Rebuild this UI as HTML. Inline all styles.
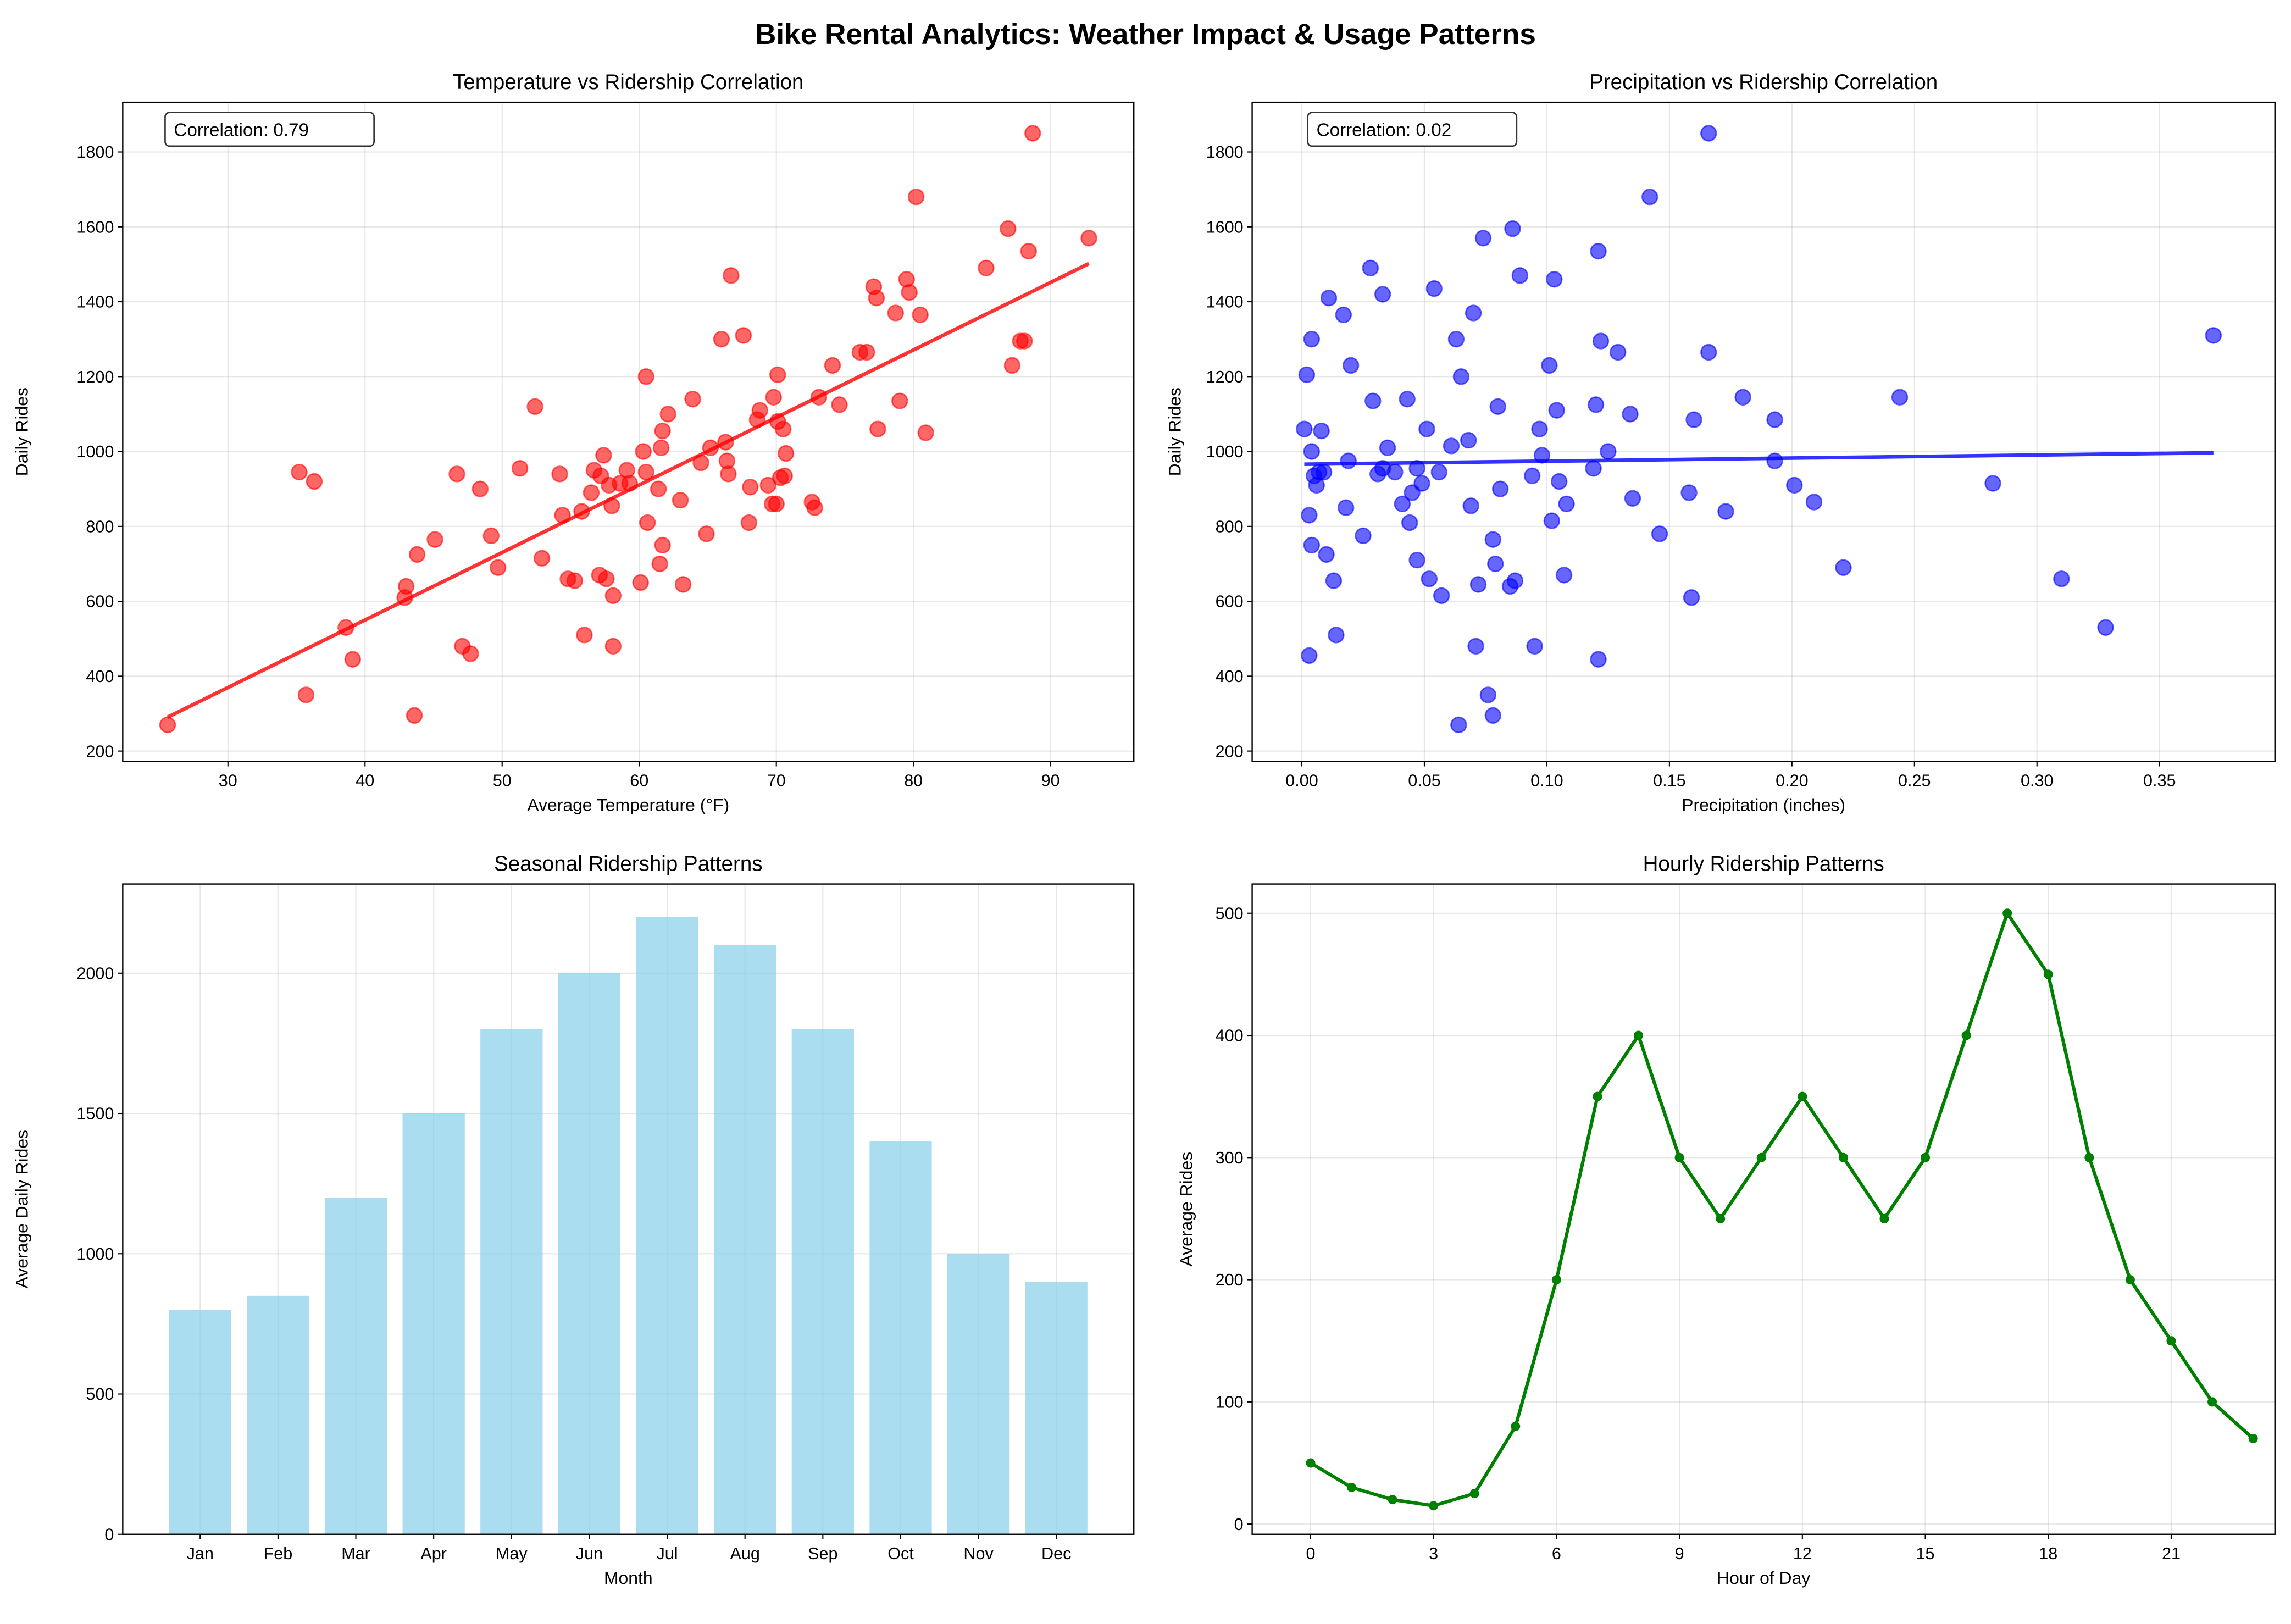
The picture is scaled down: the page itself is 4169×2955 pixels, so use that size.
<!DOCTYPE html>
<html><head><meta charset="utf-8"><style>
html,body{margin:0;padding:0;background:#fff;}
svg{display:block;font-family:"Liberation Sans","DejaVu Sans",sans-serif;}
</style></head><body>
<svg id="fig" width="4169" height="2955" viewBox="0 0 1568 1111.4" xmlns="http://www.w3.org/2000/svg">
<rect width="1568" height="1111.4" fill="#fff"/>
<text x="784" y="30" text-anchor="middle" font-size="20" font-weight="bold">Bike Rental Analytics: Weather Impact &amp; Usage Patterns</text>
<g id="g1"></g>
<g id="g2"></g>
<g id="g3"></g>
<g id="g4"></g>
</svg>
<script>
const tempX=[25.6,35.2,35.7,36.3,38.6,39.1,42.9,43.0,43.6,43.8,45.1,46.7,47.1,47.7,48.4,49.2,49.7,51.3,52.4,52.9,54.2,54.4,54.8,55.3,55.8,56.0,56.5,56.7,57.1,57.2,57.4,57.6,57.8,58.0,58.1,58.1,58.6,59.1,59.3,60.1,60.3,60.5,60.5,60.6,61.4,61.5,61.6,61.7,61.7,62.1,63.0,63.2,63.9,64.5,64.9,65.2,66.0,66.3,66.4,66.5,66.7,67.6,68.0,68.1,68.6,68.8,69.4,69.7,69.8,70.0,70.1,70.1,70.3,70.5,70.6,70.7,72.6,72.8,73.1,74.1,74.6,76.1,76.6,77.1,77.3,77.4,78.7,79.0,79.5,79.7,80.2,80.5,80.9,85.3,86.9,87.2,87.8,88.1,88.4,88.7,92.8];
const tempRides=[270,945,350,920,530,445,610,640,295,725,765,940,480,460,900,775,690,955,1120,715,940,830,660,655,840,510,890,950,670,935,990,660,910,855,615,480,915,950,915,650,1000,945,1200,810,900,700,1010,1055,750,1100,870,645,1140,970,780,1010,1300,1025,975,940,1470,1310,810,905,1085,1110,910,860,1145,860,1080,1205,930,1060,935,995,865,850,1145,1230,1125,1265,1265,1440,1410,1060,1370,1135,1460,1425,1680,1365,1050,1490,1595,1230,1295,1295,1535,1850,1570];
const precipX=[0.001,0.002,0.003,0.003,0.004,0.004,0.004,0.005,0.006,0.007,0.008,0.009,0.010,0.011,0.013,0.014,0.017,0.018,0.019,0.020,0.025,0.028,0.029,0.031,0.033,0.033,0.035,0.038,0.041,0.043,0.044,0.045,0.047,0.047,0.049,0.051,0.052,0.054,0.056,0.057,0.061,0.063,0.064,0.065,0.068,0.069,0.070,0.071,0.072,0.074,0.076,0.078,0.078,0.079,0.080,0.081,0.085,0.086,0.087,0.089,0.094,0.095,0.097,0.098,0.101,0.102,0.103,0.104,0.105,0.107,0.108,0.119,0.120,0.121,0.121,0.122,0.125,0.129,0.134,0.135,0.142,0.146,0.158,0.159,0.160,0.166,0.166,0.173,0.180,0.193,0.193,0.201,0.209,0.221,0.244,0.282,0.310,0.328,0.372];
const precipRides=[1060,1205,830,455,750,1300,1000,935,910,945,1055,945,725,1410,655,510,1365,850,975,1230,775,1490,1135,940,1420,955,1010,945,860,1140,810,890,710,955,915,1060,660,1435,945,615,1015,1300,270,1200,1030,855,1370,480,645,1570,350,765,295,700,1120,900,640,1595,655,1470,935,480,1060,990,1230,815,1460,1110,920,670,860,955,1125,1535,445,1295,1000,1265,1100,875,1680,780,890,610,1085,1850,1265,840,1145,975,1085,910,865,690,1145,915,660,530,1310];
const months=["Jan","Feb","Mar","Apr","May","Jun","Jul","Aug","Sep","Oct","Nov","Dec"];
const monthRides=[800,850,1200,1500,1800,2000,2200,2100,1800,1400,1000,900];
const hours=[0,1,2,3,4,5,6,7,8,9,10,11,12,13,14,15,16,17,18,19,20,21,22,23];
const hourRides=[50,30,20,15,25,80,200,350,400,300,250,300,350,300,250,300,400,500,450,300,200,150,100,70];
const tempTicksX=[30,40,50,60,70,80,90];
const ridesTicks=[200,400,600,800,1000,1200,1400,1600,1800];
const precipTicks=[0,0.05,0.1,0.15,0.2,0.25,0.3,0.35];
const monthTicks=[0,500,1000,1500,2000];
const hourTicksX=[0,3,6,9,12,15,18,21];
const hourTicksY=[0,100,200,300,400,500];

const NS="http://www.w3.org/2000/svg";
function el(p,t,a){const e=document.createElementNS(NS,t);for(const k in a)e.setAttribute(k,a[k]);p.appendChild(e);return e;}
function lin(d0,d1,r0,r1){return v=>r0+(v-d0)*(r1-r0)/(d1-d0);}
function fit(xs,ys){const n=xs.length;let mx=0,my=0;for(let i=0;i<n;i++){mx+=xs[i];my+=ys[i];}mx/=n;my/=n;let sxy=0,sxx=0;for(let i=0;i<n;i++){sxy+=(xs[i]-mx)*(ys[i]-my);sxx+=(xs[i]-mx)**2;}const b=sxy/sxx;return [b,my-b*mx];}

function axes(g,box,xs,xt,xfmt,ys,yt,title,xl,yl){
  const [L,T,R,B]=box;
  yt.forEach(v=>{const y=ys(v);
    const gl=el(g,'line',{x1:L,x2:R,y1:y,y2:y,stroke:'#b0b0b0','stroke-opacity':0.3,'stroke-width':0.8});
    
    el(g,'line',{x1:L-3.5,x2:L,y1:y,y2:y,stroke:'#000','stroke-width':0.8});
    const t=el(g,'text',{x:L-6,y:y+4,'text-anchor':'end','font-size':11.5});t.textContent=v;
    });
  xt.forEach(v=>{const x=xs(v);
    const gl=el(g,'line',{x1:x,x2:x,y1:T,y2:B,stroke:'#b0b0b0','stroke-opacity':0.3,'stroke-width':0.8});
    
    el(g,'line',{x1:x,x2:x,y1:B,y2:B+3.5,stroke:'#000','stroke-width':0.8});
    const t=el(g,'text',{x:x,y:B+17,'text-anchor':'middle','font-size':11.5});t.textContent=xfmt(v);
    });
  const tt=el(g,'text',{x:(L+R)/2,y:T-9,'text-anchor':'middle','font-size':14.5});tt.textContent=title;
  
  const xa=el(g,'text',{x:(L+R)/2,y:B+34,'text-anchor':'middle','font-size':12});xa.textContent=xl;
  
  const ya=el(g,'text',{x:0,y:0,'text-anchor':'middle','font-size':12,transform:`translate(${box[4]},${(T+B)/2}) rotate(-90)`});ya.textContent=yl;
  
}
function frame(g,box){const [L,T,R,B]=box;const r=el(g,'rect',{x:L,y:T,width:R-L,height:B-T,fill:'none',stroke:'#000','stroke-width':0.9});
  }
function corrBox(g,x,y,txt){const r=el(g,'rect',{x:x,y:y,width:143,height:23,rx:3,fill:'#fff',stroke:'#333','stroke-width':1});
  
  const t=el(g,'text',{x:x+6,y:y+16,'font-size':12.5});t.textContent=txt;
  }

// Chart 1
(function(){const g=document.getElementById('g1');const box=[84,70,776,521,19];
 const xs=lin(30,90,156,719), ys=lin(200,1800,514,104);
 axes(g,box,xs,tempTicksX,v=>v,ys,ridesTicks,'Temperature vs Ridership Correlation','Average Temperature (°F)','Daily Rides');
 tempX.forEach((x,i)=>{const c=el(g,'circle',{cx:xs(x),cy:ys(tempRides[i]),r:5.2,fill:'red','fill-opacity':0.6,stroke:'red','stroke-opacity':0.6});
  });
 const [b,a]=fit(tempX,tempRides);const x0=Math.min(...tempX),x1=Math.max(...tempX);
 const l=el(g,'line',{x1:xs(x0),y1:ys(a+b*x0),x2:xs(x1),y2:ys(a+b*x1),stroke:'red','stroke-opacity':0.8,'stroke-width':2.5});
 
 frame(g,box);corrBox(g,113,77,'Correlation: 0.79');})();
// Chart 2
(function(){const g=document.getElementById('g2');const box=[857,70,1557,521,808];
 const xs=lin(0,0.35,891,1478), ys=lin(200,1800,514,104);
 axes(g,box,xs,precipTicks,v=>v.toFixed(2),ys,ridesTicks,'Precipitation vs Ridership Correlation','Precipitation (inches)','Daily Rides');
 precipX.forEach((x,i)=>{const c=el(g,'circle',{cx:xs(x),cy:ys(precipRides[i]),r:5.2,fill:'blue','fill-opacity':0.6,stroke:'blue','stroke-opacity':0.6});
  });
 const [b,a]=fit(precipX,precipRides);const x0=Math.min(...precipX),x1=Math.max(...precipX);
 const l=el(g,'line',{x1:xs(x0),y1:ys(a+b*x0),x2:xs(x1),y2:ys(a+b*x1),stroke:'blue','stroke-opacity':0.8,'stroke-width':2.5});
 
 frame(g,box);corrBox(g,895,77,'Correlation: 0.02');})();
// Chart 3
(function(){const g=document.getElementById('g3');const box=[84,605,776,1050,19];
 const ys=lin(0,2000,1050,666); const xs=i=>137+i*53.27;
 axes(g,box,v=>0,[],v=>'',ys,monthTicks,'Seasonal Ridership Patterns','Month','Average Daily Rides');
 months.forEach((m,i)=>{const x=xs(i);
  const gl=el(g,'line',{x1:x,x2:x,y1:605,y2:1050,stroke:'#b0b0b0','stroke-opacity':0.3,'stroke-width':0.8});
  });
 monthRides.forEach((v,i)=>{const x=xs(i);const r=el(g,'rect',{x:x-21.3,y:ys(v),width:42.6,height:ys(0)-ys(v),fill:'#87ceeb','fill-opacity':0.7});
  
  el(g,'line',{x1:x,x2:x,y1:1050,y2:1053.5,stroke:'#000','stroke-width':0.8});
  const t=el(g,'text',{x:x,y:1067,'text-anchor':'middle','font-size':11.5});t.textContent=months[i];
  });
 frame(g,box);})();
// Chart 4
(function(){const g=document.getElementById('g4');const box=[857,605,1557,1050,816];
 const xs=lin(0,21,897,1486), ys=lin(0,500,1043,625);
 axes(g,box,xs,hourTicksX,v=>v,ys,hourTicksY,'Hourly Ridership Patterns','Hour of Day','Average Rides');
 const p=el(g,'polyline',{points:hours.map((h,i)=>xs(h)+','+ys(hourRides[i])).join(' '),fill:'none',stroke:'green','stroke-width':2.3,'stroke-linejoin':'round'});
 
 hours.forEach((h,i)=>{const c=el(g,'circle',{cx:xs(h),cy:ys(hourRides[i]),r:3.2,fill:'green'});
  });
 frame(g,box);})();
</script>
</body></html>
